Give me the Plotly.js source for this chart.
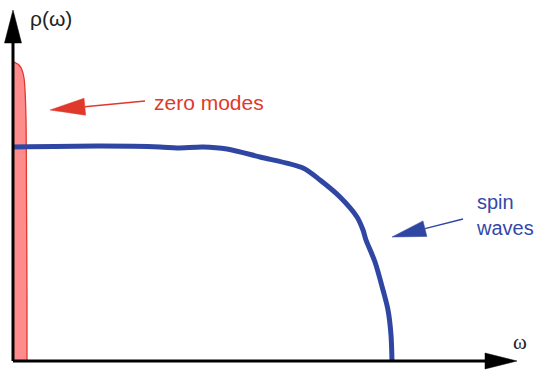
<!DOCTYPE html>
<html>
<head>
  <meta charset="utf-8">
  <script src="https://cdn.plot.ly/plotly-3.0.1.min.js"></script>
  <style>
    body { margin: 0; background: white; }
    #plot { width: 535px; height: 373px; }
  </style>
</head>
<body>
<div id="plot"></div>
<script>
// Zero modes: narrow peak right at omega = 0
let zeroOmega = [0, 3, 6, 9, 11, 12, 13, 13.5, 14, 14];
let zeroRho = [299, 298, 296, 291, 283, 271, 241, 161, 61, 0];

// Spin waves: flat density that falls off to a cutoff
let spinOmega = [0, 87, 147, 164, 190, 214, 247, 290, 307, 327, 344, 350, 353, 362, 370, 375, 378, 379];
let spinRho = [214, 215, 214, 213, 214, 212, 204, 193, 181, 164, 144, 131, 121, 99, 71, 51, 26, 0];

let red = "#e0392b";
let blue = "#2f47a2";

// Build a straight arrow: a thin line plus a long filled triangle head
function arrow(x0, y0, x1, y1, headLen, headHalf, color, width) {
  let dx = x1 - x0;
  let dy = y1 - y0;
  let len = Math.sqrt(dx * dx + dy * dy);
  let ux = dx / len;
  let uy = dy / len;
  // base of the head
  let bx = x1 - ux * headLen;
  let by = y1 - uy * headLen;
  let px = -uy * headHalf;
  let py = ux * headHalf;
  let line = {
    type: "line", xref: "x", yref: "y",
    x0: x0, y0: y0, x1: bx, y1: by,
    line: {color: color, width: width}
  };
  let head = {
    type: "path", xref: "x", yref: "y",
    path: "M" + x1 + "," + y1 + " L" + (bx + px) + "," + (by + py) +
          " L" + (bx - px) + "," + (by - py) + " Z",
    fillcolor: color,
    line: {color: color, width: 0.5}
  };
  return [line, head];
}

let trace1 = {
  x: zeroOmega,
  y: zeroRho,
  type: "scatter",
  mode: "lines",
  fill: "tozeroy",
  fillcolor: "#ff8c8c",
  line: {color: red, width: 1.3, shape: "spline"},
  hoverinfo: "skip"
};

let trace2 = {
  x: spinOmega,
  y: spinRho,
  type: "scatter",
  mode: "lines",
  line: {color: blue, width: 5, shape: "spline", smoothing: 0.8},
  hoverinfo: "skip"
};

let shapes = [].concat(
  arrow(0, 0, 0, 351, 33, 8.5, "black", 3),     // rho axis
  arrow(0, 0, 504, 0, 32, 8, "black", 3),       // omega axis
  arrow(132, 260, 37, 251, 35, 8.5, red, 1.5),  // zero modes pointer
  arrow(450, 142, 379, 124, 34, 8, blue, 1.5)   // spin waves pointer
);

let layout = {
  width: 535,
  height: 373,
  margin: {l: 0, r: 0, t: 0, b: 0},
  paper_bgcolor: "white",
  plot_bgcolor: "white",
  showlegend: false,
  xaxis: {range: [-13, 522], visible: false, fixedrange: true},
  yaxis: {range: [-12, 361], visible: false, fixedrange: true},
  shapes: shapes,
  annotations: [
    {x: 38, y: 343, text: "ρ(ω)", showarrow: false,
     font: {family: "Liberation Sans, Arial", size: 21, color: "#222"}},
    {x: 507, y: 19, text: "ω", showarrow: false,
     font: {family: "Liberation Serif, Times New Roman", size: 21, color: "#222"}},
    {x: 139, y: 259, text: "zero modes", showarrow: false, xanchor: "left",
     font: {family: "Liberation Sans, Arial", size: 21, color: red}},
    {x: 461, y: 146, text: "spin<br>waves", showarrow: false, xanchor: "left", align: "left",
     font: {family: "Liberation Sans, Arial", size: 20, color: "#3448a8"}}
  ]
};

Plotly.newPlot("plot", [trace1, trace2], layout, {staticPlot: true});
</script>
</body>
</html>
